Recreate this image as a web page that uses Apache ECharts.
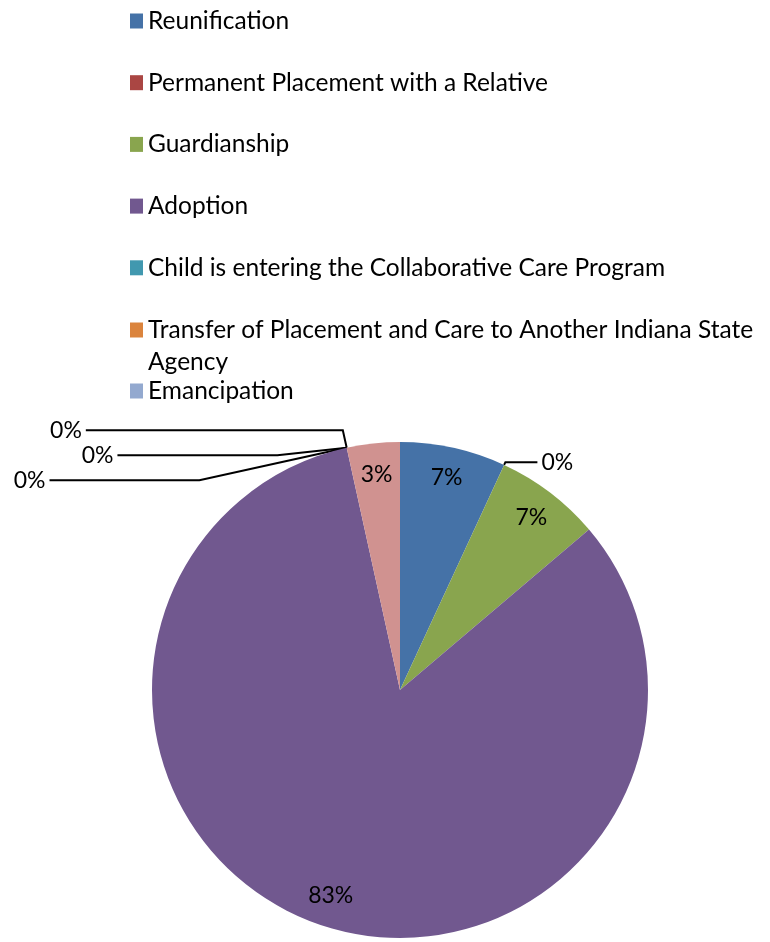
<!DOCTYPE html>
<html>
<head>
<meta charset="utf-8">
<script src="https://cdn.jsdelivr.net/npm/echarts@6/dist/echarts.min.js"></script>
<style>html,body{margin:0;padding:0;background:#fff;}#c{width:770px;height:942px;}</style>
</head>
<body>
<div id="c"></div>
<script>
const categories = [
  'Reunification',
  'Permanent Placement with a Relative',
  'Guardianship',
  'Adoption',
  'Child is entering the Collaborative Care Program',
  'Transfer of Placement and Care to Another Indiana State Agency',
  'Emancipation',
  'Another Planned Permanent Living Arrangement'
];
const counts = [2, 0, 2, 24, 0, 0, 0, 1];
const colors = ['#4572A7', '#AA4643', '#89A54E', '#71588F', '#4198AF', '#DB843D', '#93A9CF', '#D09290'];
const zeroLen1 = [0, 3, 0, 0, 18, 18, 18, 0];
const zeroLen2 = [0, 32, 0, 0, 257, 160, 190, 0];

const FONT = 'Lato';
const chart = echarts.init(document.getElementById('c'));

const legendText = { fontFamily: FONT, fontSize: 24.5, color: '#000', lineHeight: 30 };

const mainData = categories.map((n, i) => ({
  name: n,
  value: counts[i],
  itemStyle: { color: colors[i] },
  label: { show: counts[i] === 0 },
  labelLine: { show: counts[i] === 0, length: zeroLen1[i], length2: zeroLen2[i] }
}));
const overlayData = categories.map((n, i) => ({
  name: n,
  value: counts[i],
  label: { show: counts[i] > 0 }
}));

chart.setOption({
  animation: false,
  color: colors,
  legend: [
    {
      orient: 'vertical', left: 125, top: 1, itemGap: 31.7,
      itemWidth: 13, itemHeight: 15, icon: 'rect', selectedMode: false,
      data: categories.slice(0, 5), textStyle: legendText
    },
    {
      orient: 'vertical', left: 125, top: 277,
      itemWidth: 13, itemHeight: 15, icon: 'rect', selectedMode: false,
      data: [categories[5]],
      formatter: () => '\nTransfer of Placement and Care to Another Indiana State\nAgency',
      textStyle: { fontFamily: FONT, fontSize: 24.5, color: '#000', lineHeight: 32 }
    },
    {
      orient: 'vertical', left: 125, top: 371,
      itemWidth: 13, itemHeight: 15, icon: 'rect', selectedMode: false,
      data: [categories[6]], textStyle: legendText
    }
  ],
  series: [
    {
      type: 'pie',
      center: [400, 690],
      radius: [0, 248],
      startAngle: 90,
      clockwise: true,
      avoidLabelOverlap: true,
      itemStyle: { borderWidth: 0 },
      emphasis: { disabled: true },
      percentPrecision: 0,
      label: {
        position: 'outside', formatter: '{d}%',
        fontFamily: FONT, fontSize: 23, color: '#000', distanceToLabelLine: 4
      },
      labelLine: { lineStyle: { color: '#000', width: 2 } },
      data: mainData
    },
    {
      type: 'pie',
      center: [400, 690],
      radius: [180, 248],
      startAngle: 90,
      clockwise: true,
      silent: true,
      percentPrecision: 0,
      itemStyle: { color: 'rgba(0,0,0,0)', borderWidth: 0 },
      emphasis: { disabled: true },
      label: {
        position: 'inside', formatter: '{d}%',
        fontFamily: FONT, fontSize: 23, color: '#000'
      },
      labelLine: { show: false },
      data: overlayData
    }
  ]
});
</script>
</body>
</html>
